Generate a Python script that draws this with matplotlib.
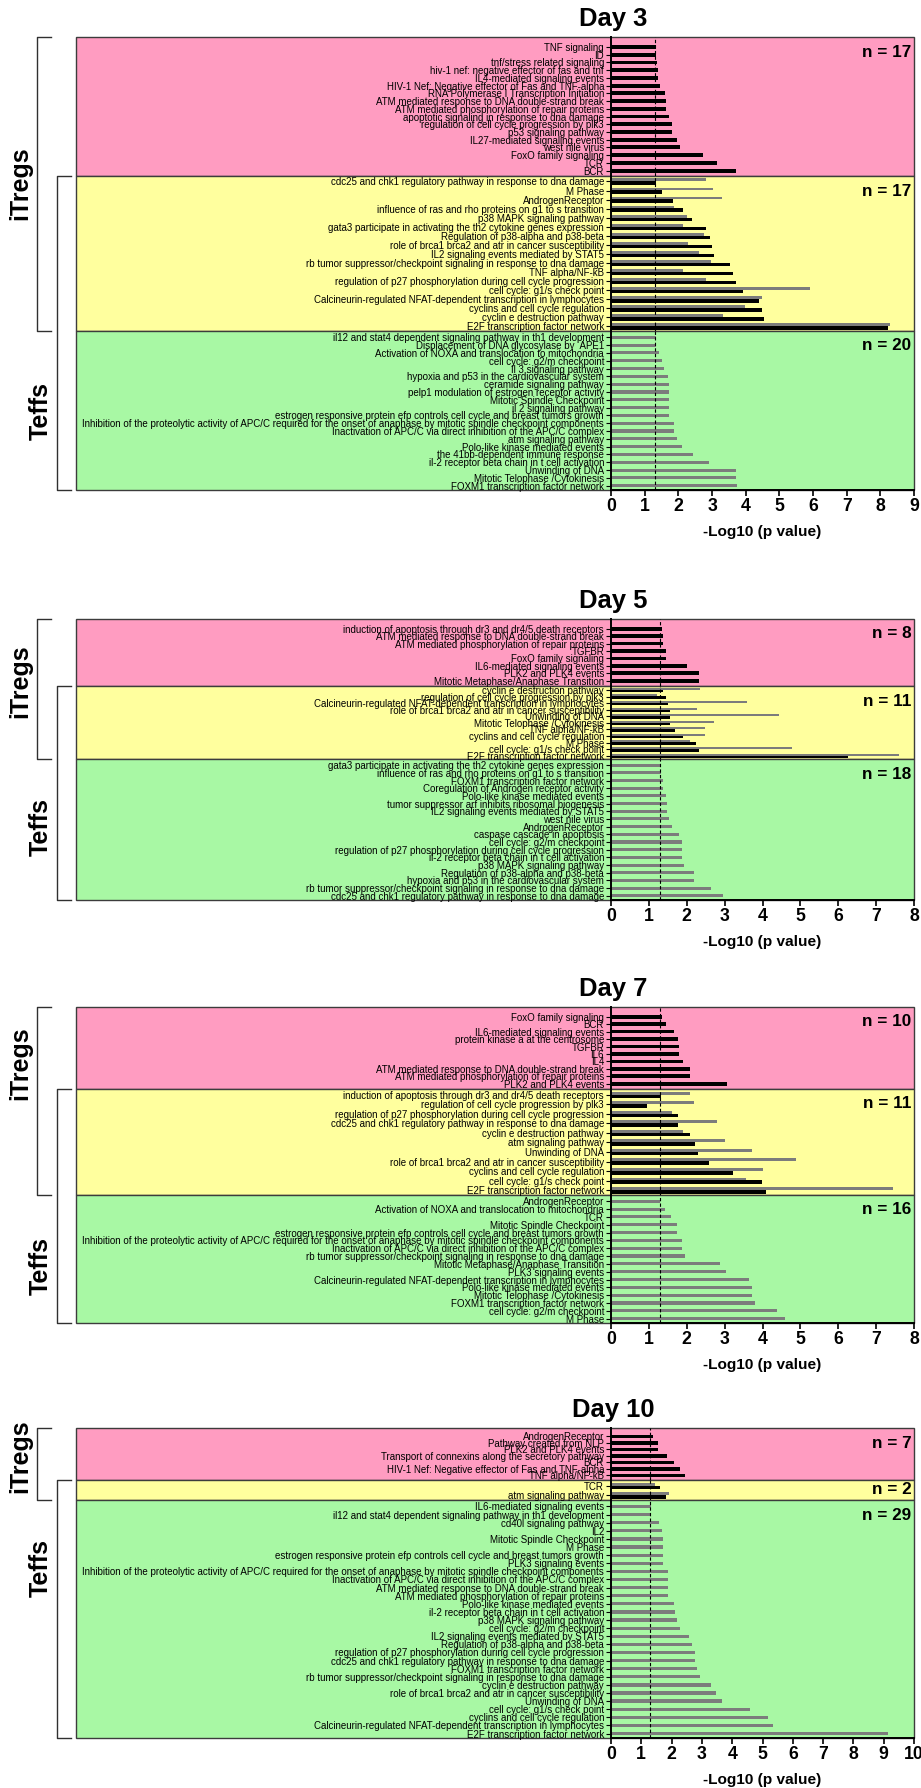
"""Pathway enrichment per day: iTregs only / shared / Teffs only, -log10 p bars."""
import numpy as np
import matplotlib
matplotlib.use("Agg")
import matplotlib.pyplot as plt
from matplotlib import font_manager
from matplotlib.patches import Rectangle
from matplotlib.lines import Line2D

# ---------------- data ----------------
# Day 3
d3_treg_terms = [
    "TNF signaling", "ID", "tnf/stress related signaling",
    "hiv-1 nef: negative effector of fas and tnf", "IL4-mediated signaling events",
    "HIV-1 Nef: Negative effector of Fas and TNF-alpha",
    "RNA Polymerase I Transcription Initiation",
    "ATM mediated response to DNA double-strand break",
    "ATM mediated phosphorylation of repair proteins",
    "apoptotic signaling in response to dna damage",
    "regulation of cell cycle progression by plk3", "p53 signaling pathway",
    "IL27-mediated signaling events", "west nile virus", "FoxO family signaling",
    "TCR", "BCR"]
d3_treg_vals = [1.34, 1.34, 1.36, 1.40, 1.41, 1.47, 1.61, 1.64, 1.64, 1.71,
                1.82, 1.82, 1.95, 2.06, 2.72, 3.14, 3.72]
d3_shared_terms = [
    "cdc25 and chk1 regulatory pathway in response to dna damage", "M Phase",
    "AndrogenReceptor", "influence of ras and rho proteins on g1 to s transition",
    "p38 MAPK signaling pathway",
    "gata3 participate in activating the th2 cytokine genes expression",
    "Regulation of p38-alpha and p38-beta",
    "role of brca1 brca2 and atr in cancer susceptibility",
    "IL2 signaling events mediated by STAT5",
    "rb tumor suppressor/checkpoint signaling in response to dna damage",
    "TNF alpha/NF-kB",
    "regulation of p27 phosphorylation during cell cycle progression",
    "cell cycle: g1/s check point",
    "Calcineurin-regulated NFAT-dependent transcription in lymphocytes",
    "cyclins and cell cycle regulation", "cyclin e destruction pathway",
    "E2F transcription factor network"]
d3_shared_treg = [1.34, 1.50, 1.83, 2.15, 2.40, 2.81, 2.94, 2.99, 3.05, 3.54,
                  3.61, 3.72, 3.92, 4.39, 4.49, 4.54, 8.22]
d3_shared_teff = [2.81, 3.02, 3.30, 1.88, 2.27, 2.15, 2.76, 2.28, 2.61, 2.97,
                  2.15, 2.81, 5.91, 4.49, 3.98, 3.33, 8.30]
d3_teff_terms = [
    "il12 and stat4 dependent signaling pathway in th1 development",
    "Displacement of DNA glycosylase by  APE1",
    "Activation of NOXA and translocation to mitochondria",
    "cell cycle: g2/m checkpoint", "Il 3 signaling pathway",
    "hypoxia and p53 in the cardiovascular system", "ceramide signaling pathway",
    "pelp1 modulation of estrogen receptor activity", "Mitotic Spindle Checkpoint",
    "il 2 signaling pathway",
    "estrogen responsive protein efp controls cell cycle and breast tumors growth",
    "Inhibition of the proteolytic activity of APC/C required for the onset of "
    "anaphase by mitotic spindle checkpoint components",
    "Inactivation of APC/C via direct inhibition of the APC/C complex",
    "atm signaling pathway", "Polo-like kinase mediated events",
    "the 41bb-dependent immune response",
    "il-2 receptor beta chain in t cell activation", "Unwinding of DNA",
    "Mitotic Telophase /Cytokinesis", "FOXM1 transcription factor network"]
d3_teff_vals = [1.34, 1.34, 1.42, 1.50, 1.58, 1.68, 1.71, 1.71, 1.71, 1.71,
                1.71, 1.88, 1.88, 1.96, 2.10, 2.43, 2.92, 3.70, 3.70, 3.75]

# Day 5
d5_treg_terms = [
    "induction of apoptosis through dr3 and dr4/5 death receptors",
    "ATM mediated response to DNA double-strand break",
    "ATM mediated phosphorylation of repair proteins", "TGFBR",
    "FoxO family signaling", "IL6-mediated signaling events",
    "PLK2 and PLK4 events", "Mitotic Metaphase/Anaphase Transition"]
d5_treg_vals = [1.35, 1.38, 1.38, 1.46, 1.46, 2.00, 2.33, 2.33]
d5_shared_terms = [
    "cyclin e destruction pathway", "regulation of cell cycle progression by plk3",
    "Calcineurin-regulated NFAT-dependent transcription in lymphocytes",
    "role of brca1 brca2 and atr in cancer susceptibility", "Unwinding of DNA",
    "Mitotic Telophase /Cytokinesis", "TNF alpha/NF-kB",
    "cyclins and cell cycle regulation", "M Phase",
    "cell cycle: g1/s check point", "E2F transcription factor network"]
d5_shared_treg = [1.38, 1.46, 1.51, 1.55, 1.57, 1.57, 1.69, 1.89, 2.25, 2.33, 6.27]
d5_shared_teff = [2.36, 1.21, 3.60, 2.27, 4.44, 2.73, 2.48, 2.48, 2.08, 4.77, 7.61]
d5_teff_terms = [
    "gata3 participate in activating the th2 cytokine genes expression",
    "influence of ras and rho proteins on g1 to s transition",
    "FOXM1 transcription factor network",
    "Coregulation of Androgen receptor activity",
    "Polo-like kinase mediated events",
    "tumor suppressor arf inhibits ribosomal biogenesis",
    "IL2 signaling events mediated by STAT5", "west nile virus",
    "AndrogenReceptor", "caspase cascade in apoptosis",
    "cell cycle: g2/m checkpoint",
    "regulation of p27 phosphorylation during cell cycle progression",
    "il-2 receptor beta chain in t cell activation", "p38 MAPK signaling pathway",
    "Regulation of p38-alpha and p38-beta",
    "hypoxia and p53 in the cardiovascular system",
    "rb tumor suppressor/checkpoint signaling in response to dna damage",
    "cdc25 and chk1 regulatory pathway in response to dna damage"]
d5_teff_vals = [1.29, 1.33, 1.36, 1.38, 1.45, 1.48, 1.48, 1.52, 1.62, 1.80,
                1.87, 1.87, 1.88, 1.93, 2.20, 2.20, 2.65, 2.96]

# Day 7
d7_treg_terms = [
    "FoxO family signaling", "BCR", "IL6-mediated signaling events",
    "protein kinase a at the centrosome", "TGFBR", "IL6", "IL4",
    "ATM mediated response to DNA double-strand break",
    "ATM mediated phosphorylation of repair proteins", "PLK2 and PLK4 events"]
d7_treg_vals = [1.35, 1.46, 1.66, 1.77, 1.79, 1.79, 1.89, 2.08, 2.08, 3.06]
d7_shared_terms = [
    "induction of apoptosis through dr3 and dr4/5 death receptors",
    "regulation of cell cycle progression by plk3",
    "regulation of p27 phosphorylation during cell cycle progression",
    "cdc25 and chk1 regulatory pathway in response to dna damage",
    "cyclin e destruction pathway", "atm signaling pathway", "Unwinding of DNA",
    "role of brca1 brca2 and atr in cancer susceptibility",
    "cyclins and cell cycle regulation", "cell cycle: g1/s check point",
    "E2F transcription factor network"]
d7_shared_treg = [1.32, 0.95, 1.77, 1.77, 2.08, 2.22, 2.30, 2.58, 3.21, 3.99, 4.08]
d7_shared_teff = [2.08, 2.19, 1.60, 2.81, 1.89, 3.01, 3.73, 4.88, 4.02, 3.57, 7.45]
d7_teff_terms = [
    "AndrogenReceptor", "Activation of NOXA and translocation to mitochondria",
    "TCR", "Mitotic Spindle Checkpoint",
    "estrogen responsive protein efp controls cell cycle and breast tumors growth",
    "Inhibition of the proteolytic activity of APC/C required for the onset of "
    "anaphase by mitotic spindle checkpoint components",
    "Inactivation of APC/C via direct inhibition of the APC/C complex",
    "rb tumor suppressor/checkpoint signaling in response to dna damage",
    "Mitotic Metaphase/Anaphase Transition", "PLK3 signaling events",
    "Calcineurin-regulated NFAT-dependent transcription in lymphocytes",
    "Polo-like kinase mediated events", "Mitotic Telophase /Cytokinesis",
    "FOXM1 transcription factor network", "cell cycle: g2/m checkpoint", "M Phase"]
d7_teff_vals = [1.30, 1.43, 1.58, 1.74, 1.74, 1.88, 1.88, 1.96, 2.88, 3.04,
                3.64, 3.72, 3.72, 3.81, 4.38, 4.59]

# Day 10
d10_treg_terms = [
    "AndrogenReceptor", "Pathway created from NLP", "PLK2 and PLK4 events",
    "Transport of connexins along the secretory pathway", "BCR",
    "HIV-1 Nef: Negative effector of Fas and TNF-alpha", "TNF alpha/NF-kB"]
d10_treg_vals = [1.40, 1.55, 1.55, 1.86, 2.08, 2.29, 2.45]
d10_shared_terms = ["TCR", "atm signaling pathway"]
d10_shared_treg = [1.63, 1.82]
d10_shared_teff = [1.46, 1.91]
d10_teff_terms = [
    "IL6-mediated signaling events",
    "il12 and stat4 dependent signaling pathway in th1 development",
    "cd40l signaling pathway", "IL2", "Mitotic Spindle Checkpoint", "M Phase",
    "estrogen responsive protein efp controls cell cycle and breast tumors growth",
    "PLK3 signaling events",
    "Inhibition of the proteolytic activity of APC/C required for the onset of "
    "anaphase by mitotic spindle checkpoint components",
    "Inactivation of APC/C via direct inhibition of the APC/C complex",
    "ATM mediated response to DNA double-strand break",
    "ATM mediated phosphorylation of repair proteins",
    "Polo-like kinase mediated events",
    "il-2 receptor beta chain in t cell activation", "p38 MAPK signaling pathway",
    "cell cycle: g2/m checkpoint", "IL2 signaling events mediated by STAT5",
    "Regulation of p38-alpha and p38-beta",
    "regulation of p27 phosphorylation during cell cycle progression",
    "cdc25 and chk1 regulatory pathway in response to dna damage",
    "FOXM1 transcription factor network",
    "rb tumor suppressor/checkpoint signaling in response to dna damage",
    "cyclin e destruction pathway",
    "role of brca1 brca2 and atr in cancer susceptibility", "Unwinding of DNA",
    "cell cycle: g1/s check point", "cyclins and cell cycle regulation",
    "Calcineurin-regulated NFAT-dependent transcription in lymphocytes",
    "E2F transcription factor network"]
d10_teff_vals = [1.31, 1.31, 1.58, 1.67, 1.71, 1.71, 1.71, 1.71, 1.87, 1.87,
                 1.87, 1.87, 2.09, 2.12, 2.18, 2.27, 2.58, 2.67, 2.76, 2.76,
                 2.85, 2.94, 3.30, 3.45, 3.67, 4.59, 5.17, 5.35, 9.15]

# ---------------- layout (pixels, from top-left) ----------------
W, H = 921, 1788
AX_L, AX_R, BOX_L = 611, 914, 76
PINK, YELLOW, GREEN, GREY = "#ff9cc1", "#ffff9e", "#a8f8a4", "#7c7c7c"
CUTOFF = 1.3  # -log10(0.05)

fonts = {f.name for f in font_manager.fontManager.ttflist}
NARROW = "Liberation Sans Narrow" if "Liberation Sans Narrow" in fonts else "Liberation Sans"
SQ = 1.0 if NARROW.endswith("Narrow") else 0.82
plt.rcParams["font.family"] = [NARROW, "DejaVu Sans"]

panels = [
    dict(title="Day 3", xmax=9, edges=(37, 176, 331, 490), lab=(183, 411),
         treg=(d3_treg_terms, d3_treg_vals),
         shared=(d3_shared_terms, d3_shared_treg, d3_shared_teff),
         teff=(d3_teff_terms, d3_teff_vals)),
    dict(title="Day 5", xmax=8, edges=(619, 686, 759, 900), lab=(681, 827),
         treg=(d5_treg_terms, d5_treg_vals),
         shared=(d5_shared_terms, d5_shared_treg, d5_shared_teff),
         teff=(d5_teff_terms, d5_teff_vals)),
    dict(title="Day 7", xmax=8, edges=(1007, 1089, 1195, 1323), lab=(1063, 1266),
         treg=(d7_treg_terms, d7_treg_vals),
         shared=(d7_shared_terms, d7_shared_treg, d7_shared_teff),
         teff=(d7_teff_terms, d7_teff_vals)),
    dict(title="Day 10", xmax=10, edges=(1428, 1480, 1500, 1738), lab=(1456, 1568),
         treg=(d10_treg_terms, d10_treg_vals),
         shared=(d10_shared_terms, d10_shared_treg, d10_shared_teff),
         teff=(d10_teff_terms, d10_teff_vals)),
]

fig = plt.figure(figsize=(W / 100, H / 100), dpi=100)


def fx(px):
    return px / W


def fy(py):
    return 1 - py / H


def section(top, bot, terms, black, grey, color, xmax, pad, last):
    ax = fig.add_axes([fx(AX_L), fy(bot), fx(AX_R) - fx(AX_L), (bot - top) / H])
    ax.set_facecolor("none")
    fig.add_artist(Rectangle((fx(BOX_L), fy(bot)), fx(AX_R) - fx(BOX_L), (bot - top) / H,
                             transform=fig.transFigure, facecolor=color,
                             edgecolor="#3c3c3c", lw=1.0, zorder=-1))
    y = np.arange(len(terms))
    if black is not None and grey is not None:
        ax.barh(y - 0.17, grey, height=0.32, color=GREY)
        ax.barh(y + 0.17, black, height=0.38, color="black")
    elif black is not None:
        ax.barh(y, black, height=0.5, color="black")
    else:
        ax.barh(y, grey, height=0.4, color=GREY)
    ax.axvline(CUTOFF, color="black", lw=0.8, ls=(0, (3, 2)), zorder=3)
    ax.set_xlim(0, xmax)
    ax.set_ylim(len(terms) - 0.5 + pad[1], -0.5 - pad[0])
    ax.set_yticks(y, terms, fontsize=8.6 * SQ)
    ax.tick_params(axis="y", length=3.5, width=0.8, pad=1.5)
    for s in ("top", "right"):
        ax.spines[s].set_visible(False)
    ax.spines["left"].set_linewidth(1.4)
    if last:
        ax.spines["bottom"].set_linewidth(1.4)
        ax.set_xticks(range(xmax + 1), [str(v) for v in range(xmax + 1)],
                      fontsize=15.5 * SQ, fontweight="bold")
        ax.tick_params(axis="x", length=4, width=1.2, pad=2)
    else:
        ax.spines["bottom"].set_visible(False)
        ax.tick_params(axis="x", bottom=False, labelbottom=False)
    dy = min(15, (bot - top) / 2) * 0.72
    ax.annotate(f"n = {len(terms)}", xy=(1, 1), xycoords="axes fraction",
                xytext=(-2, -dy), textcoords="offset points", ha="right", va="center",
                fontsize=15 * SQ, fontweight="bold")
    return ax


def bracket(x, y0, y1, arm=14):
    fig.add_artist(Line2D(fx(np.array([x + arm, x, x, x + arm])),
                          fy(np.array([y0, y0, y1, y1])), color="#303030", lw=1.0))


for p in panels:
    t_pink, t_yel, t_grn, t_bot = p["edges"]
    section(t_pink, t_yel, p["treg"][0], p["treg"][1], None, PINK, p["xmax"], (0.8, 0.2), False)
    section(t_yel, t_grn, p["shared"][0], p["shared"][1], p["shared"][2], YELLOW,
            p["xmax"], (0.1, 0.0), False)
    section(t_grn, t_bot, p["teff"][0], None, p["teff"][1], GREEN, p["xmax"], (0.3, 0.05), True)

    fig.text(fx(AX_L + 2), fy(t_pink - 18), p["title"], ha="center", va="center",
             fontsize=22.5 * SQ, fontweight="bold")
    fig.text(fx((AX_L + AX_R) / 2), fy(t_bot + 42), "-Log10 (p value)", ha="center",
             va="center", fontsize=13.5 * SQ, fontweight="bold")

    bracket(37, t_pink, t_grn)
    bracket(57, t_yel, t_bot)
    fig.text(fx(20), fy(p["lab"][0]), "iTregs", rotation=90, ha="center", va="center",
             fontsize=22 * SQ, fontweight="bold")
    fig.text(fx(41), fy(p["lab"][1]), "Teffs", rotation=90, ha="center", va="center",
             fontsize=22 * SQ, fontweight="bold")

fig.savefig("out.png", dpi=100)
